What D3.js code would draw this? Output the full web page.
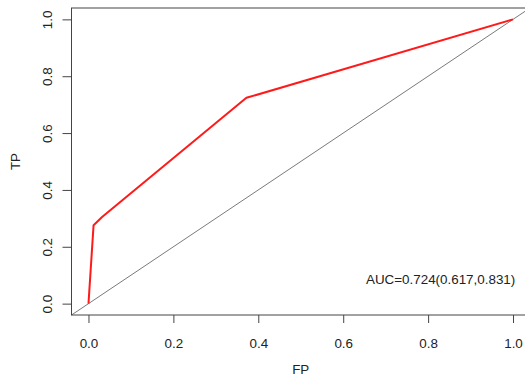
<!DOCTYPE html>
<html>
<head>
<meta charset="utf-8">
<script src="https://cdn.jsdelivr.net/npm/d3@7"></script>
<style>
  html, body { margin: 0; padding: 0; background: #fff; }
  svg { display: block; }
  text { font-family: "Liberation Sans", Arial, sans-serif; fill: #222; }
</style>
</head>
<body>
<svg id="chart" width="525" height="380"></svg>
<script>
// ROC curve: false positive rate vs true positive rate
const fpr = [0, 0.012, 0.032, 0.372, 1];
const tpr = [0, 0.276, 0.305, 0.724, 1];
const tickValues = [0, 0.2, 0.4, 0.6, 0.8, 1.0];
const tickLabels = ["0.0", "0.2", "0.4", "0.6", "0.8", "1.0"];
const refLine = [[-0.04, -0.04], [1.04, 1.04]];
const aucLabel = "AUC=0.724(0.617,0.831)";
const xTitle = "FP";
const yTitle = "TP";

const svg = d3.select("#chart");
const plotL = 71.5, plotR = 530, plotT = 8, plotB = 315;

const x = d3.scaleLinear().domain([-0.04, 1.04]).range([plotL, plotR]);
const y = d3.scaleLinear().domain([-0.04, 1.04]).range([plotB, plotT]);

const axisColor = "#444";
const fontSize = "13.4px";

// diagonal reference line
svg.append("line")
  .attr("x1", x(refLine[0][0])).attr("y1", y(refLine[0][1]))
  .attr("x2", x(refLine[1][0])).attr("y2", y(refLine[1][1]))
  .attr("stroke", "#7a7a7a").attr("stroke-width", 1);

// ROC curve
const pts = fpr.map((d, i) => [d, tpr[i]]);
svg.append("path")
  .datum(pts)
  .attr("fill", "none")
  .attr("stroke", "#ff1a1a")
  .attr("stroke-width", 2)
  .attr("stroke-linejoin", "round")
  .attr("d", d3.line().x(d => x(d[0])).y(d => y(d[1])));

// plot box
svg.append("rect")
  .attr("x", plotL).attr("y", plotT)
  .attr("width", plotR - plotL).attr("height", plotB - plotT)
  .attr("fill", "none").attr("stroke", axisColor).attr("stroke-width", 1);

// x axis
const xAxis = d3.axisBottom(x)
  .tickValues(tickValues)
  .tickFormat((d, i) => tickLabels[i])
  .tickSize(8).tickPadding(15);
const gx = svg.append("g").attr("transform", `translate(0,${plotB})`).call(xAxis);
gx.select(".domain").remove();
gx.selectAll("line").attr("stroke", axisColor);
gx.selectAll("text").style("font-size", fontSize).attr("fill", "#222");

// y axis with rotated labels
const yAxis = d3.axisLeft(y)
  .tickValues(tickValues)
  .tickFormat((d, i) => tickLabels[i])
  .tickSize(9).tickPadding(0);
const gy = svg.append("g").attr("transform", `translate(${plotL},0)`).call(yAxis);
gy.select(".domain").remove();
gy.selectAll("line").attr("stroke", axisColor);
gy.selectAll("text")
  .style("font-size", fontSize)
  .attr("fill", "#222")
  .attr("x", null).attr("dy", null)
  .attr("text-anchor", "middle")
  .attr("dominant-baseline", "central")
  .attr("transform", "translate(-24,0) rotate(-90)");

// axis titles
svg.append("text")
  .attr("x", (plotL + plotR) / 2).attr("y", 374)
  .attr("text-anchor", "middle")
  .style("font-size", fontSize)
  .text(xTitle);

svg.append("text")
  .attr("transform", `translate(20,${(plotT + plotB) / 2}) rotate(-90)`)
  .attr("text-anchor", "middle")
  .style("font-size", fontSize)
  .text(yTitle);

// AUC annotation
svg.append("text")
  .attr("x", 366).attr("y", 284)
  .style("font-size", fontSize)
  .text(aucLabel);
</script>
</body>
</html>
